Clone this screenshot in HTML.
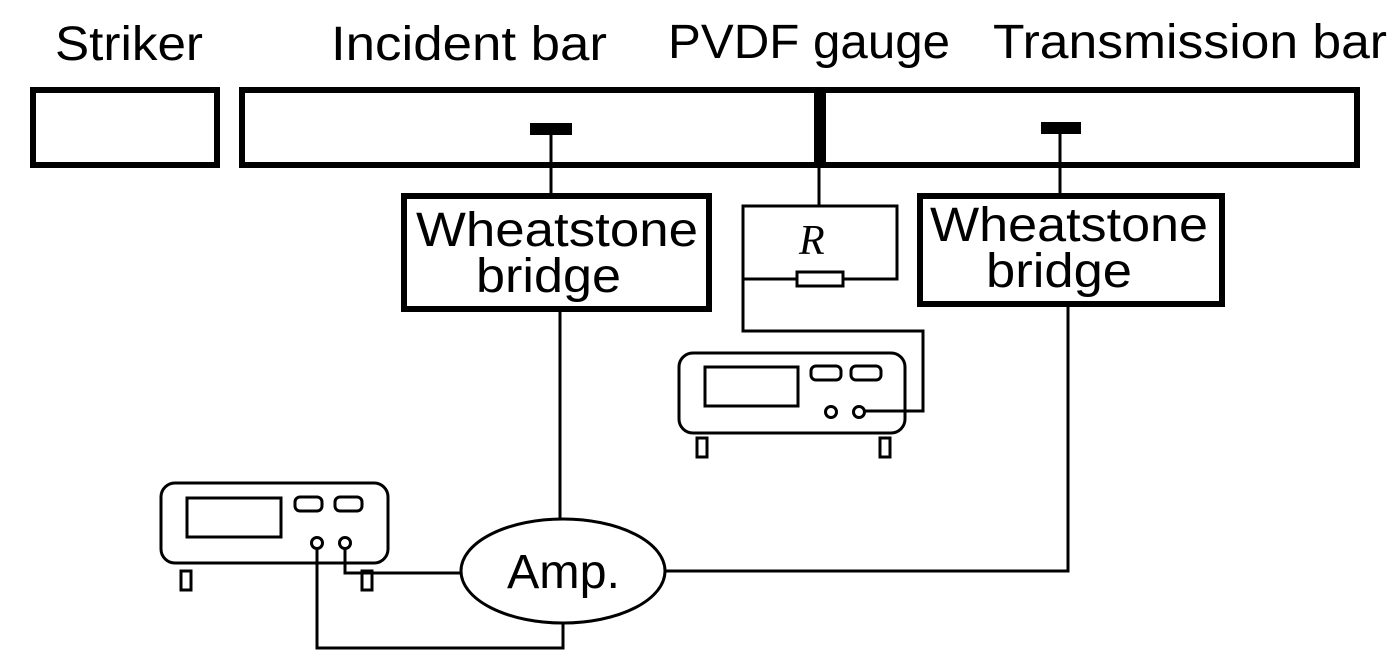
<!DOCTYPE html>
<html><head><meta charset="utf-8"><style>
html,body{margin:0;padding:0;background:#fff;}
svg{display:block;}
text{font-family:"Liberation Sans",sans-serif;fill:#000;}
</style></head><body>
<svg width="1399" height="666" viewBox="0 0 1399 666" xmlns="http://www.w3.org/2000/svg">
<g font-size="48">
<text x="55" y="60" textLength="148" lengthAdjust="spacingAndGlyphs">Striker</text>
<text x="331" y="60" textLength="276" lengthAdjust="spacingAndGlyphs">Incident bar</text>
<text x="668" y="58" textLength="282" lengthAdjust="spacingAndGlyphs">PVDF gauge</text>
<text x="993" y="58" textLength="394" lengthAdjust="spacingAndGlyphs">Transmission bar</text>
</g>
<g fill="none" stroke="#000" stroke-width="6">
<rect x="33" y="90" width="184" height="75"/>
<rect x="242" y="90" width="575" height="75"/>
<rect x="823" y="90" width="534" height="75"/>
<rect x="404" y="196" width="305" height="113"/>
<rect x="920" y="196" width="302" height="108"/>
</g>
<line x1="819.5" y1="88" x2="819.5" y2="167" stroke="#000" stroke-width="6"/>
<rect x="530" y="123" width="42" height="12" fill="#000"/>
<rect x="1041" y="122" width="40" height="12" fill="#000"/>
<g stroke="#000" stroke-width="3" fill="none">
<line x1="551" y1="134" x2="551" y2="196"/>
<line x1="1060" y1="134" x2="1060" y2="196"/>
<line x1="819" y1="165" x2="819" y2="206"/>
<polyline points="797,279 743,279 743,206 897,206 897,279 843,279"/>
<rect x="797" y="272" width="46" height="14"/>
<polyline points="743,279 743,331 923,331 923,411 864,411"/>
<rect x="679" y="353" width="226" height="80" rx="14"/>
<rect x="705" y="367" width="93" height="39"/>
<rect x="811" y="366" width="30" height="14" rx="5"/>
<rect x="851" y="366" width="30" height="14" rx="5"/>
<circle cx="831" cy="412" r="5.5"/>
<circle cx="859" cy="412" r="5.5"/>
<rect x="697" y="438" width="10" height="19"/>
<rect x="880" y="438" width="10" height="19"/>
<rect x="161" y="483" width="227" height="80" rx="14"/>
<rect x="187" y="498" width="94" height="39"/>
<rect x="295" y="497" width="27" height="14" rx="5"/>
<rect x="335" y="497" width="27" height="14" rx="5"/>
<circle cx="317" cy="543" r="5.5"/>
<circle cx="345" cy="543" r="5.5"/>
<rect x="181" y="571" width="10" height="19"/>
<rect x="362" y="571" width="10" height="19"/>
<line x1="560" y1="311" x2="560" y2="518"/>
<polyline points="317,549 317,648 563,648 563,622"/>
<polyline points="345,549 345,573 461,573"/>
<polyline points="666,571 1068,571 1068,305"/>
<ellipse cx="563" cy="571" rx="102" ry="52"/>
</g>
<text x="799" y="254" style="font-family:'Liberation Serif',serif;font-style:italic;font-size:42px">R</text>
<g font-size="48">
<text x="416" y="246" textLength="282" lengthAdjust="spacingAndGlyphs">Wheatstone</text>
<text x="476" y="292" textLength="145" lengthAdjust="spacingAndGlyphs">bridge</text>
<text x="930" y="241" textLength="278" lengthAdjust="spacingAndGlyphs">Wheatstone</text>
<text x="986" y="287" textLength="146" lengthAdjust="spacingAndGlyphs">bridge</text>
<text x="507" y="588" textLength="113" lengthAdjust="spacingAndGlyphs">Amp.</text>
</g>
</svg>
</body></html>
